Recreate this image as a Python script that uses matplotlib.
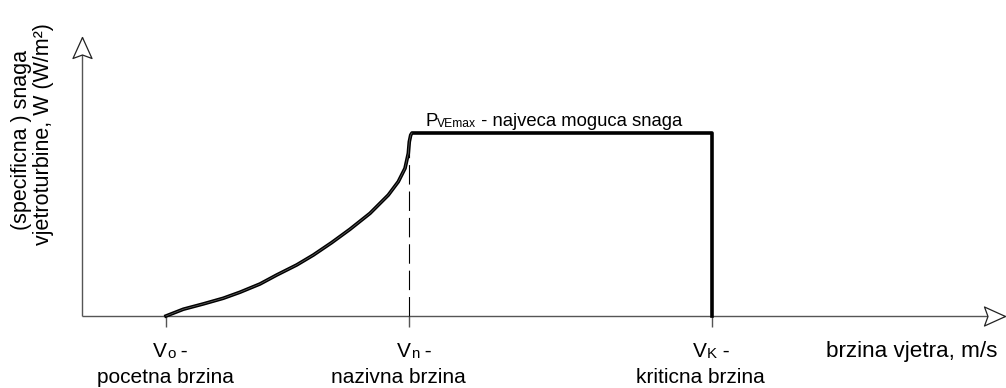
import matplotlib
matplotlib.use("Agg")
import matplotlib.pyplot as plt
from matplotlib.path import Path

plt.rcParams["font.family"] = ["Liberation Sans", "DejaVu Sans"]
plt.rcParams["lines.scale_dashes"] = False

# Characteristic wind speeds (m/s scale) and relative specific power
v_start = 2.8      # Vo - cut-in speed
v_rated = 10.9     # Vn - rated speed
v_cutout = 21.0    # Vk - cut-out speed
p_max = 1.0

# Rising part of the power curve between cut-in and rated speed
curve_v = [2.8, 3.377, 4.043, 4.71, 5.267, 5.933, 6.49, 7.157, 7.71, 8.323, 8.933,
           9.6, 10.21, 10.543, 10.767, 10.877, 10.91, 10.957, 11.0]
curve_p = [0.0, 0.037, 0.066, 0.097, 0.13, 0.175, 0.224, 0.279, 0.333, 0.401, 0.474,
           0.561, 0.661, 0.734, 0.807, 0.889, 0.952, 0.989, 1.0]

speed_ticks = [v_start, v_rated, v_cutout]
speed_subs = ["o", "n", "K"]
speed_names = ["pocetna brzina", "nazivna brzina", "kriticna brzina"]

x_label = "brzina vjetra, m/s"
y_label_lines = ["(specificna ) snaga", "vjetroturbine, W (W/m²)"]

# axis extents
x_end = 30.77
y_end = 1.525

W, H, DPI = 1006, 388, 100
fig = plt.figure(figsize=(W / DPI, H / DPI), dpi=DPI)
ax = fig.add_axes([0, 0, 1, 1])
ax.set_xlim(-82 / 30, (W - 82) / 30)
ax.set_ylim(-(H - 316) / 183, 316 / 183)
ax.axis("off")

axis_color = "#555555"
ax.plot([0, x_end], [0, 0], color=axis_color, lw=1.0, zorder=2, solid_capstyle="butt")
ax.plot([0, 0], [0, y_end], color=axis_color, lw=1.0, zorder=2, solid_capstyle="butt")

# open arrowheads with a notched back
up_head = Path([(0, 0), (-9.5, -21), (0, -17.5), (9.5, -21), (0, 0)],
               [Path.MOVETO, Path.LINETO, Path.LINETO, Path.LINETO, Path.CLOSEPOLY])
right_head = Path([(0, 0), (-21, 9.5), (-17.5, 0), (-21, -9.5), (0, 0)],
                  [Path.MOVETO, Path.LINETO, Path.LINETO, Path.LINETO, Path.CLOSEPOLY])
head_ms = 2 * 21 * 72 / DPI
ax.plot([0], [y_end], marker=up_head, ms=head_ms, mfc="white", mec="#222222", mew=0.9,
        zorder=5, ls="none")
ax.plot([x_end], [0], marker=right_head, ms=head_ms, mfc="white", mec="#222222", mew=0.9,
        zorder=5, ls="none")

# tick marks below the speed axis
tick_len = 11 / 183
ax.vlines(speed_ticks, -tick_len, 0, color=axis_color, lw=1.0, zorder=2)

# rated speed marker line
ax.plot([v_rated, v_rated], [0, p_max], color="black", lw=0.8, dashes=(14, 5), zorder=3)

# power curve: rise, flat maximum, cut-out drop
power_v = curve_v + [v_cutout, v_cutout]
power_p = curve_p + [p_max, 0.0]
ax.plot(power_v, power_p, color="black", lw=2.6, zorder=4, solid_joinstyle="round")
ax.plot(curve_v, curve_p, color="#666666", lw=0.5, zorder=4)

# speed labels under the ticks
fs = 15
line1_y = (316 - 357) / 183
line2_y = (316 - 383) / 183
line1_dx = [-13 / 30, -12 / 30, -19 / 30]
line2_dx = [-1 / 30, -11 / 30, -12 / 30]
for v, sub, name, d1, d2 in zip(speed_ticks, speed_subs, speed_names, line1_dx, line2_dx):
    tv = ax.text(v + d1, line1_y, "V", fontsize=fs, ha="left", va="baseline")
    ts = ax.annotate(sub, xy=(1, 0), xycoords=tv, fontsize=fs * 0.72,
                     ha="left", va="bottom")
    ax.annotate(" -", xy=(1, 0), xycoords=(ts, tv), fontsize=fs, ha="left", va="bottom")
    ax.text(v + d2, line2_y, name, fontsize=fs, ha="center", va="baseline")

ax.text((826 - 82) / 30, line1_y, x_label, fontsize=16.2, ha="left", va="baseline")

# maximum power label
pfs = 13.3
tp = ax.text((425 - 82) / 30, (316 - 126) / 183, "P", fontsize=pfs, ha="left", va="baseline")
tsub = ax.annotate("VEmax", xy=(1, 0), xycoords=tp, fontsize=pfs * 0.66, ha="left", va="bottom")
ax.annotate(" - najveca moguca snaga", xy=(1, 0), xycoords=(tsub, tp), fontsize=pfs,
            ha="left", va="bottom")

# vertical axis title, two lines
yfs = 15.5
ax.text((21 - 82) / 30, (316 - 140) / 183, y_label_lines[0], fontsize=yfs, rotation=90,
        ha="center", va="center")
ax.text((43 - 82) / 30, (316 - 134) / 183, y_label_lines[1], fontsize=yfs, rotation=90,
        ha="center", va="center")

fig.savefig("out.png", dpi=DPI, facecolor="white")
